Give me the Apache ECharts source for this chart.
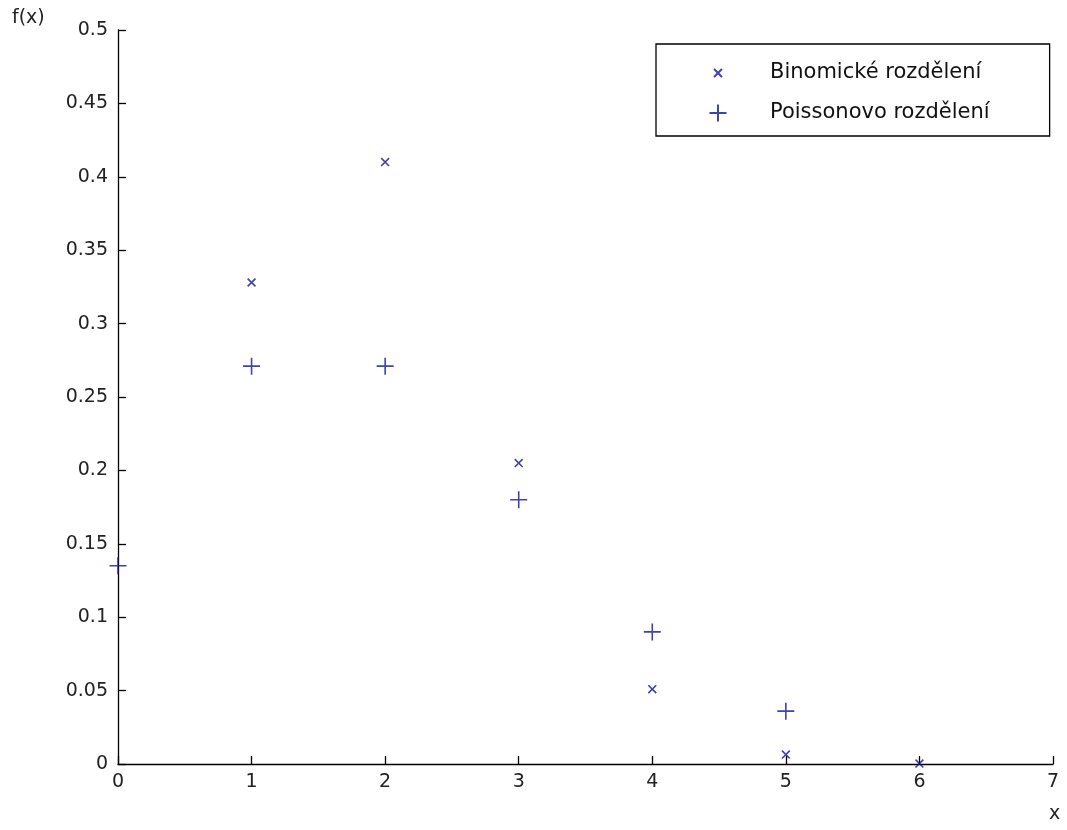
<!DOCTYPE html>
<html>
<head>
<meta charset="utf-8">
<script src="https://cdn.jsdelivr.net/npm/echarts@6/dist/echarts.min.js"></script>
<style>
html,body{margin:0;padding:0;background:#fff;}
#chart{width:1067px;height:830px;}
</style>
</head>
<body>
<div id="chart"></div>
<script>
// Data
var binomX = [1, 2, 3, 4, 5, 6];
var binomY = [0.328, 0.41, 0.205, 0.051, 0.0064, 0.0003];
var poissX = [0, 1, 2, 3, 4, 5];
var poissY = [0.135, 0.271, 0.271, 0.180, 0.090, 0.036];
var seriesNames = ['Binomické rozdělení', 'Poissonovo rozdělení'];
var xTicks = [0, 1, 2, 3, 4, 5, 6, 7];
var yTicks = [0, 0.05, 0.1, 0.15, 0.2, 0.25, 0.3, 0.35, 0.4, 0.45, 0.5];

function pairs(xs, ys) { return xs.map(function (x, i) { return [x, ys[i]]; }); }

var BLUE = '#12129c';
var FONT = 'DejaVu Sans';
// markers drawn in a 16x16 box (moveTo points extend the bbox)
var CROSS_X = 'path://M0,0M16,16M4.3,4.3L11.7,11.7M11.7,4.3L4.3,11.7';
var PLUS = 'path://M0,0M16,16M0,8L16,8M8,0L8,16';

var chart = echarts.init(document.getElementById('chart'));
chart.setOption({
  backgroundColor: '#ffffff',
  animation: false,
  grid: { left: 118, right: 14, top: 30, bottom: 66, containLabel: false },
  xAxis: {
    type: 'value', min: 0, max: 7, interval: 1,
    axisLine: { show: true, onZero: false, lineStyle: { color: '#000', width: 1.3 } },
    axisTick: { show: true, inside: true, length: 8, lineStyle: { color: '#000', width: 1.3 } },
    axisLabel: { color: '#222', fontFamily: FONT, fontSize: 19, margin: 9,
      formatter: function (v) { return xTicks.indexOf(v) >= 0 ? String(v) : ''; } },
    splitLine: { show: false }
  },
  yAxis: {
    type: 'value', min: 0, max: 0.5, interval: 0.05,
    axisLine: { show: true, onZero: false, lineStyle: { color: '#000', width: 1.3 } },
    axisTick: { show: true, inside: true, length: 8, lineStyle: { color: '#000', width: 1.3 } },
    axisLabel: { color: '#222', fontFamily: FONT, fontSize: 19, margin: 10,
      formatter: function (v) {
        var r = Math.round(v * 100) / 100;
        return String(r);
      } },
    splitLine: { show: false }
  },
  legend: {
    orient: 'vertical',
    left: 656, top: 44,
    padding: [18, 60, 12, 51],
    itemGap: 18,
    itemWidth: 94, itemHeight: 17,
    backgroundColor: '#fff',
    borderColor: '#000', borderWidth: 1.3, borderRadius: 0,
    textStyle: { color: '#111', fontFamily: FONT, fontSize: 21 },
    data: [
      { name: seriesNames[0], icon: CROSS_X },
      { name: seriesNames[1], icon: PLUS }
    ]
  },
  graphic: [
    { type: 'text', left: 12, top: 9, style: { text: 'f(x)', fontFamily: FONT, fontSize: 19, fill: '#222' } },
    { type: 'text', left: 1049, top: 805, style: { text: 'x', fontFamily: FONT, fontSize: 19, fill: '#222' } }
  ],
  series: [
    {
      name: seriesNames[0], type: 'scatter', clip: false,
      symbol: CROSS_X, symbolSize: 17, symbolKeepAspect: true,
      itemStyle: { color: 'none', borderColor: BLUE, borderWidth: 1.6 },
      data: pairs(binomX, binomY)
    },
    {
      name: seriesNames[1], type: 'scatter', clip: false,
      symbol: PLUS, symbolSize: 17, symbolKeepAspect: true,
      itemStyle: { color: 'none', borderColor: BLUE, borderWidth: 1.6 },
      data: pairs(poissX, poissY)
    }
  ]
});
</script>
</body>
</html>
